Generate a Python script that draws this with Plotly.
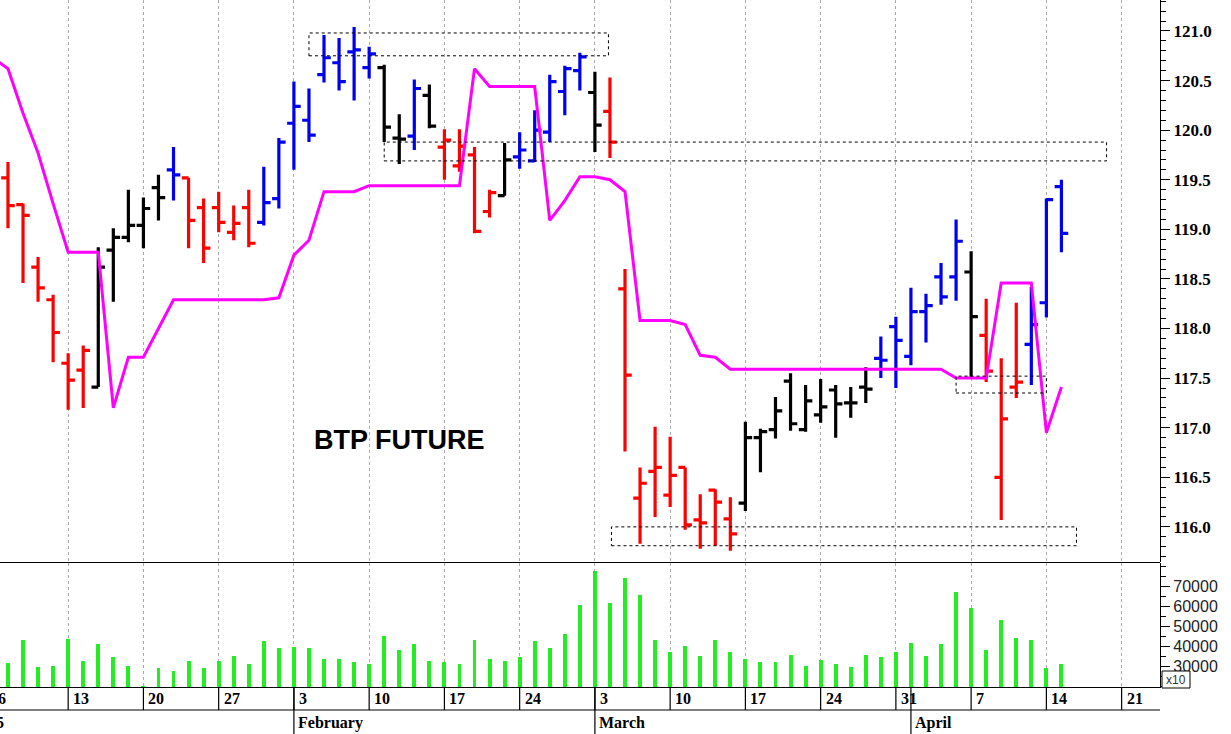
import pandas as pd
import plotly.graph_objects as go

# ---------------- data ----------------
trading_days = pd.bdate_range("2025-01-06", "2025-04-25")
idx = {d.strftime("%Y-%m-%d"): i for i, d in enumerate(trading_days)}

bar_dates = [d.strftime("%Y-%m-%d") for d in pd.bdate_range("2025-01-07", "2025-04-15")]
opens = [119.52,119.25,118.62,118.29,117.65,117.58,117.41,118.79,118.92,119.04,119.42,119.60,119.52,
         119.22,119.22,118.97,119.22,119.07,119.31,120.07,120.10,120.56,120.68,120.79,120.63,120.63,
         119.92,119.94,120.35,119.83,119.64,119.75,119.18,119.34,119.73,119.69,119.98,120.39,120.60,
         120.38,120.19,118.40,116.29,116.56,116.32,116.60,116.07,116.37,116.08,116.24,116.90,116.98,
         117.47,116.98,117.13,117.38,117.25,117.41,117.70,118.02,117.72,118.17,118.52,118.52,118.57,
         117.93,116.50,117.41,117.84,118.26,119.43]
highs = [119.68,119.26,118.72,118.34,117.75,117.83,118.82,119.01,119.40,119.32,119.55,119.83,119.52,
         119.31,119.38,119.24,119.40,119.63,119.92,120.49,120.42,120.96,120.93,121.04,120.84,120.66,
         120.16,120.51,120.46,120.01,120.01,119.83,119.40,119.87,119.98,120.20,120.56,120.65,120.78,
         120.59,120.53,118.60,116.60,117.01,116.91,116.60,116.33,116.38,116.30,117.06,116.99,117.31,
         117.55,117.43,117.49,117.43,117.41,117.61,117.92,118.12,118.41,118.35,118.66,119.10,118.78,
         118.30,117.70,118.26,118.42,119.31,119.50]
lows = [119.01,118.46,118.27,117.66,117.18,117.20,117.41,118.27,118.87,118.81,119.09,119.29,118.81,
        118.66,118.97,118.89,118.82,119.04,119.21,119.60,119.88,120.48,120.40,120.30,120.52,119.88,
        119.66,119.80,120.02,119.50,119.58,118.96,119.12,119.34,119.61,119.68,119.88,120.15,120.40,
        119.78,119.72,116.76,115.83,116.10,116.20,115.97,115.78,115.81,115.76,116.16,116.55,116.89,
        116.97,116.96,117.05,116.90,117.10,117.25,117.50,117.40,117.63,117.86,118.24,118.28,117.51,
        117.46,116.07,117.30,117.43,118.11,118.77]
closes = [119.24,119.14,118.41,117.96,117.48,117.78,118.62,118.92,119.04,119.21,119.32,119.55,119.09,
          118.81,119.07,119.06,118.86,119.27,119.88,120.24,119.95,120.73,120.49,120.81,120.77,120.03,
          119.91,120.42,120.04,119.90,119.84,118.98,119.37,119.70,119.80,120.00,120.49,120.62,120.74,
          120.05,119.88,117.53,116.44,116.60,116.52,116.02,116.04,116.25,115.93,116.90,116.96,117.17,
          117.04,117.27,117.21,117.24,117.25,117.39,117.68,117.88,118.17,118.23,118.32,118.88,118.12,
          117.57,117.09,117.46,118.04,119.30,118.96]
bar_colors = list("RRRRRRKKKKKBRRRRRBBBBBBBBKKBKRRRRKBBBBBKRRRRRRRRRKKKKKKKKKBBBBBBKRRRBBB")

volume = [31300,43000,29300,30200,43700,32500,40800,34300,30200,20200,28800,27300,32500,
          28800,32500,35200,30800,42500,38800,39300,38800,33300,33300,31800,30800,45200,
          38200,40800,32500,31800,30800,43000,33300,32500,34300,42500,38800,45800,60300,
          77300,61700,73800,65500,43000,37200,40000,35000,43000,37200,33500,32200,32200,
          35500,30000,33000,30800,29300,35500,34300,37200,41300,35000,41000,67200,58800,
          38000,53000,43800,43000,28800,30800]

line_dates = [d.strftime("%Y-%m-%d") for d in pd.bdate_range("2025-01-06", "2025-04-15")]
line_values = [120.73,120.62,120.17,119.77,119.26,
               118.77,118.77,118.77,117.20,117.71,
               117.71,118.00,118.29,118.29,118.29,
               118.29,118.29,118.29,118.29,118.31,
               118.74,118.89,119.38,119.38,119.38,
               119.44,119.44,119.44,119.44,119.44,
               119.44,119.44,120.62,120.44,120.44,
               120.44,120.44,119.09,119.29,119.53,
               119.53,119.50,119.38,118.08,118.08,
               118.08,118.04,117.73,117.71,117.59,
               117.59,117.59,117.59,117.59,117.59,
               117.59,117.59,117.59,117.59,117.59,
               117.59,117.59,117.59,117.59,117.50,
               117.50,117.50,118.46,118.46,118.46,
               116.95,117.41]

# dotted boxes: (x0 index, x1 index, price low, price high)
boxes = [(21.0, 40.9, 120.75, 120.98),
         (26.0, 74.0, 119.69, 119.88),
         (41.1, 72.0, 115.81, 116.00),
         (64.0, 70.0, 117.35, 117.52)]

price_ticks = [116.0,116.5,117.0,117.5,118.0,118.5,119.0,119.5,120.0,120.5,121.0]
volume_ticks = [30000,40000,50000,60000,70000]
week_labels = ["6","13","20","27","3","10","17","24","3","10","17","24","31","7","14","21"]
month_labels = [("2025-02-03", "February"), ("2025-03-03", "March"), ("2025-04-01", "April")]

# ---------------- figure ----------------
W, H = 1231, 734
ML, MR, MT, MB = 0, 71, 0, 47
plot_h = H - MT - MB
price_dom = [1 - 562 / plot_h, 1]
vol_dom = [0, 1 - 563 / plot_h]
x_range = [0.47, 77.55]

fig = go.Figure()

cmap = {"R": "#ff0000", "K": "#000000", "B": "#0000f0"}
for key, col in cmap.items():
    sel = [i for i, c in enumerate(bar_colors) if c == key]
    fig.add_trace(go.Ohlc(
        x=[idx[bar_dates[i]] for i in sel],
        open=[opens[i] for i in sel], high=[highs[i] for i in sel],
        low=[lows[i] for i in sel], close=[closes[i] for i in sel],
        increasing_line_color=col, decreasing_line_color=col,
        line_width=3.2, tickwidth=0.45, hoverinfo="skip", showlegend=False,
        xaxis="x", yaxis="y"))

fig.add_trace(go.Scatter(x=[idx[d] for d in line_dates], y=line_values, mode="lines",
                         line=dict(color="#ff00ff", width=3), hoverinfo="skip",
                         showlegend=False, yaxis="y"))

fig.add_trace(go.Bar(x=[idx[d] for d in bar_dates], y=volume, width=0.26,
                     marker=dict(color="#22ee22", line_width=0), showlegend=False,
                     hoverinfo="skip", yaxis="y2"))

shapes = []
for x0, x1, lo, hi in boxes:
    shapes.append(dict(type="rect", xref="x", yref="y", x0=x0, x1=x1, y0=lo, y1=hi,
                       line=dict(color="black", width=1, dash="dot")))

mondays = [i for i, d in enumerate(trading_days) if d.weekday() == 0]
px_per = (W - MR - ML) / (x_range[1] - x_range[0])

def xpx(i):
    return ML + (i - x_range[0]) * px_per

def ypaper(pxy):
    return 1 - (pxy - MT) / plot_h

def xpaper(pxx):
    return (pxx - ML) / (W - ML - MR)

shapes.append(dict(type="line", xref="paper", yref="paper", x0=0, x1=1, y0=ypaper(562.5), y1=ypaper(562.5),
                   line=dict(color="black", width=1.2)))
shapes.append(dict(type="line", xref="paper", yref="paper", x0=0, x1=1, y0=ypaper(710), y1=ypaper(710),
                   line=dict(color="black", width=1.2)))
for m in mondays:
    if x_range[0] < m < x_range[1]:
        shapes.append(dict(type="line", xref="x", yref="paper", x0=m, x1=m, y0=ypaper(687), y1=ypaper(710),
                           line=dict(color="black", width=1.2)))
for d, _ in month_labels:
    shapes.append(dict(type="line", xref="x", yref="paper", x0=idx[d], x1=idx[d], y0=ypaper(687), y1=ypaper(734),
                       line=dict(color="black", width=1.2)))
# x10 box
shapes.append(dict(type="rect", xref="paper", yref="paper", x0=xpaper(1162), x1=xpaper(1190),
                   y0=ypaper(688), y1=ypaper(671), line=dict(color="black", width=1), fillcolor="white"))

annotations = []
serif = dict(family="Liberation Serif", size=16, color="black")
for m, lab in zip(mondays, week_labels):
    annotations.append(dict(xref="paper", yref="paper", x=xpaper(xpx(m) + 3), y=ypaper(698),
                            text="<b>%s</b>" % lab, showarrow=False, xanchor="left", yanchor="middle",
                            font=serif))
annotations.append(dict(xref="paper", yref="paper", x=xpaper(6), y=ypaper(722),
                        text="<b>2025</b>", showarrow=False, xanchor="right", yanchor="middle", font=serif))
for d, lab in month_labels:
    annotations.append(dict(xref="paper", yref="paper", x=xpaper(xpx(idx[d]) + 2), y=ypaper(723),
                            text="<b>%s</b>" % lab, showarrow=False, xanchor="left", yanchor="middle",
                            font=serif))
annotations.append(dict(xref="x", yref="y", x=27, y=116.88, text="<b>BTP FUTURE</b>", showarrow=False,
                        font=dict(family="Liberation Sans", size=27, color="black")))
annotations.append(dict(xref="paper", yref="paper", x=xpaper(1176), y=ypaper(680), text="x10", showarrow=False,
                        xanchor="center", yanchor="middle",
                        font=dict(family="Liberation Sans", size=12, color="#333")))

fig.update_layout(
    width=W, height=H, margin=dict(l=ML, r=MR, t=MT, b=MB),
    paper_bgcolor="white", plot_bgcolor="white", bargap=0,
    xaxis=dict(range=x_range, tickvals=mondays, showticklabels=False, ticks="",
               showgrid=True, gridcolor="#aaaaaa", griddash="dot", gridwidth=1,
               zeroline=False, rangeslider=dict(visible=False), anchor="y2",
               showline=True, linecolor="black", linewidth=1.2),
    yaxis=dict(domain=price_dom, range=[115.646, 121.3125], side="right",
               tickvals=price_ticks, ticktext=["%.1f" % v for v in price_ticks],
               ticks="outside", ticklen=9, tickcolor="black",
               minor=dict(dtick=0.1, ticks="outside", ticklen=5, tickcolor="black"),
               tickfont=dict(family="Liberation Serif", size=17, color="black", weight="bold"),
               showgrid=False, zeroline=False, showline=True, linecolor="black", linewidth=1.2,
               anchor="x"),
    yaxis2=dict(domain=vol_dom, range=[19500, 81500], side="right",
                tickvals=volume_ticks, ticktext=[str(v) for v in volume_ticks],
                ticks="outside", ticklen=9, tickcolor="black",
                minor=dict(dtick=5000, ticks="outside", ticklen=5, tickcolor="black"),
                tickfont=dict(family="Liberation Sans", size=16, color="#222"),
                showgrid=False, zeroline=False, showline=True, linecolor="black", linewidth=1.2,
                anchor="x"),
    shapes=shapes, annotations=annotations,
)

fig.write_html("out.html", config={"displayModeBar": False},
               post_script="document.body.style.margin='0';")
